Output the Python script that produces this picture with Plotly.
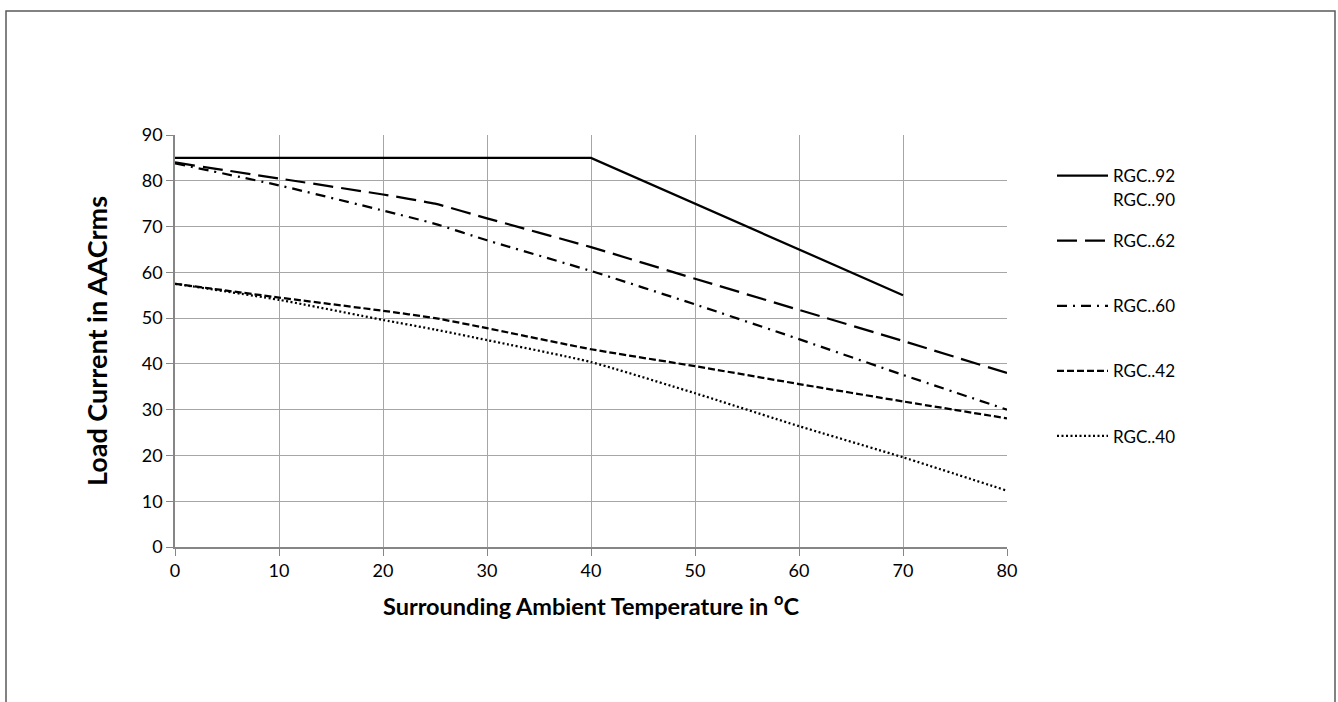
import plotly.graph_objects as go

# Temperature (°C) and derating values
temp_9x = [0, 40, 70]
rgc_92_90 = [85, 85, 55]

temp = [0, 10, 20, 25, 30, 40, 50, 60, 70, 80]
rgc_62 = [84, 80.5, 77, 75, 71.8, 65.5, 58.6, 51.8, 45, 38]
rgc_60 = [83.8, 79, 73.5, 70.6, 67, 60.3, 53, 45.4, 37.6, 30]
rgc_42 = [57.5, 54.5, 51.6, 50, 47.8, 43.2, 39.5, 35.6, 31.8, 28.1]
rgc_40 = [57.5, 54, 49.6, 47.5, 45.2, 40.4, 33.6, 26.4, 19.6, 12.3]

x_ticks = [0, 10, 20, 30, 40, 50, 60, 70, 80]
y_ticks = [0, 10, 20, 30, 40, 50, 60, 70, 80, 90]

FONT = "Lato"
W, H = 1338, 702
L, R, T, B = 175, 1007, 135, 547

series = [
    ("RGC..92", temp_9x, rgc_92_90, "solid", "linear"),
    ("RGC..62", temp, rgc_62, "20px,8px", "spline"),
    ("RGC..60", temp, rgc_60, "10px,6px,2px,6px", "spline"),
    ("RGC..42", temp, rgc_42, "7px,3px", "spline"),
    ("RGC..40", temp, rgc_40, "2px,2.5px", "spline"),
]

fig = go.Figure()
for i, (name, xs, ys, dash, shape) in enumerate(series):
    fig.add_trace(go.Scatter(
        x=xs, y=ys, name=name, mode="lines",
        line=dict(color="black", width=2.25, dash=dash, shape=shape, smoothing=0.5),
        legendgroup=f"g{i}",
    ))

def px_x(p):
    return (p - L) / (R - L)

def px_y(p):
    return (B - p) / (B - T)

fig.add_shape(type="rect", xref="paper", yref="paper",
              x0=px_x(6), x1=px_x(1335), y0=px_y(760), y1=px_y(11),
              line=dict(color="#595959", width=1.5), layer="below")

# second name of the shared solid curve, shown under its legend entry
fig.add_annotation(text="RGC..90", xref="paper", yref="paper",
                   x=px_x(1111), y=px_y(199), xanchor="left", yanchor="middle",
                   showarrow=False, font=dict(family=FONT, size=17, color="black"))

axis_common = dict(
    showgrid=True, gridcolor="#a6a6a6", gridwidth=1,
    showline=True, linecolor="#868686", linewidth=1.5,
    ticks="outside", ticklen=7, tickcolor="#868686", tickwidth=1,
    zeroline=False,
    tickfont=dict(family=FONT, size=18, color="black"),
)

fig.update_layout(
    width=W, height=H,
    margin=dict(l=L, r=W - R, t=T, b=H - B),
    paper_bgcolor="white", plot_bgcolor="white",
    font=dict(family=FONT, color="black"),
    xaxis=dict(range=[0, 80], tickvals=x_ticks, **axis_common,
               title=dict(text="Surrounding Ambient Temperature in <sup>o</sup>C",
                          font=dict(family=FONT, size=23.5, color="black", weight="bold"),
                          standoff=18)),
    yaxis=dict(range=[0, 90], tickvals=y_ticks, **axis_common,
               title=dict(text="Load Current in AACrms",
                          font=dict(family=FONT, size=27, color="black", weight="bold"),
                          standoff=26)),
    legend=dict(x=px_x(1052), y=px_y(158), xanchor="left", yanchor="top",
                font=dict(family=FONT, size=17, color="black"),
                tracegroupgap=40, itemwidth=51, valign="middle",
                bgcolor="rgba(0,0,0,0)"),
    showlegend=True,
)

fig.write_html("out.html", config={"displayModeBar": False},
               post_script="document.body.style.margin='0px';")
